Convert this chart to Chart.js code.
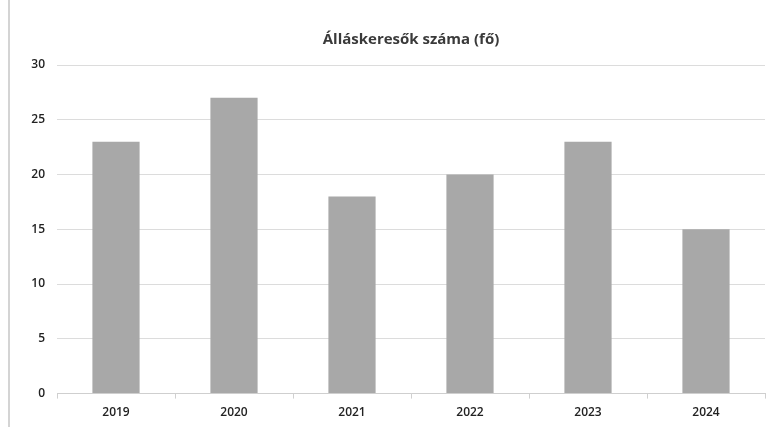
<!DOCTYPE html>
<html>
<head>
<meta charset="utf-8">
<script src="https://cdn.jsdelivr.net/npm/chart.js@4.4.1/dist/chart.umd.min.js"></script>
<style>
  html, body { margin: 0; padding: 0; background: #fff; }
  #wrap { position: relative; width: 774px; height: 427px; }
  #edge { position: absolute; left: 8px; top: 0; width: 2px; height: 427px; background: #d4d4d4; }
</style>
</head>
<body>
<div id="wrap">
  <div id="edge"></div>
  <canvas id="chart" width="774" height="427"></canvas>
</div>
<script>
  var years = ["2019", "2020", "2021", "2022", "2023", "2024"];
  var jobseekers = [23, 27, 18, 20, 23, 15];
  var yTicks = [0, 5, 10, 15, 20, 25, 30];
  var chartTitle = "Álláskeresők száma (fő)";

  // title centred over the plot area, as in the spreadsheet export
  var plotTitle = {
    id: "plotTitle",
    afterDraw: function (chart) {
      var ctx = chart.ctx;
      var area = chart.chartArea;
      ctx.save();
      ctx.font = "bold 15px 'Open Sans'";
      ctx.fillStyle = "#3a3a3a";
      ctx.textAlign = "center";
      ctx.textBaseline = "middle";
      ctx.fillText(chartTitle, (area.left + area.right) / 2, area.top - 25);
      ctx.restore();
    }
  };

  new Chart(document.getElementById("chart"), {
    type: "bar",
    data: {
      labels: years,
      datasets: [{
        data: jobseekers,
        backgroundColor: "#a8a8a8",
        borderWidth: 0,
        categoryPercentage: 1,
        barPercentage: 0.4
      }]
    },
    options: {
      responsive: false,
      animation: false,
      layout: { padding: { top: 65, right: 9, left: 0, bottom: 0 } },
      plugins: {
        legend: { display: false },
        tooltip: { enabled: false },
        title: { display: false }
      },
      scales: {
        x: {
          offset: true,
          grid: { drawOnChartArea: false, color: "#d0d0d0", tickLength: 5, offset: true },
          border: { color: "#cfcfcf" },
          ticks: { color: "#222", font: { family: "Open Sans", size: 12, weight: "600" }, padding: 7 }
        },
        y: {
          min: 0,
          max: 30,
          afterBuildTicks: function (axis) {
            axis.ticks = yTicks.map(function (v) { return { value: v }; });
          },
          afterFit: function (axis) { axis.width = 57; },
          grid: { color: "#dcdcdc", drawTicks: false },
          border: { display: false },
          ticks: { color: "#222", font: { family: "Open Sans", size: 12, weight: "600" }, padding: 12 }
        }
      }
    },
    plugins: [plotTitle]
  });
</script>
</body>
</html>
